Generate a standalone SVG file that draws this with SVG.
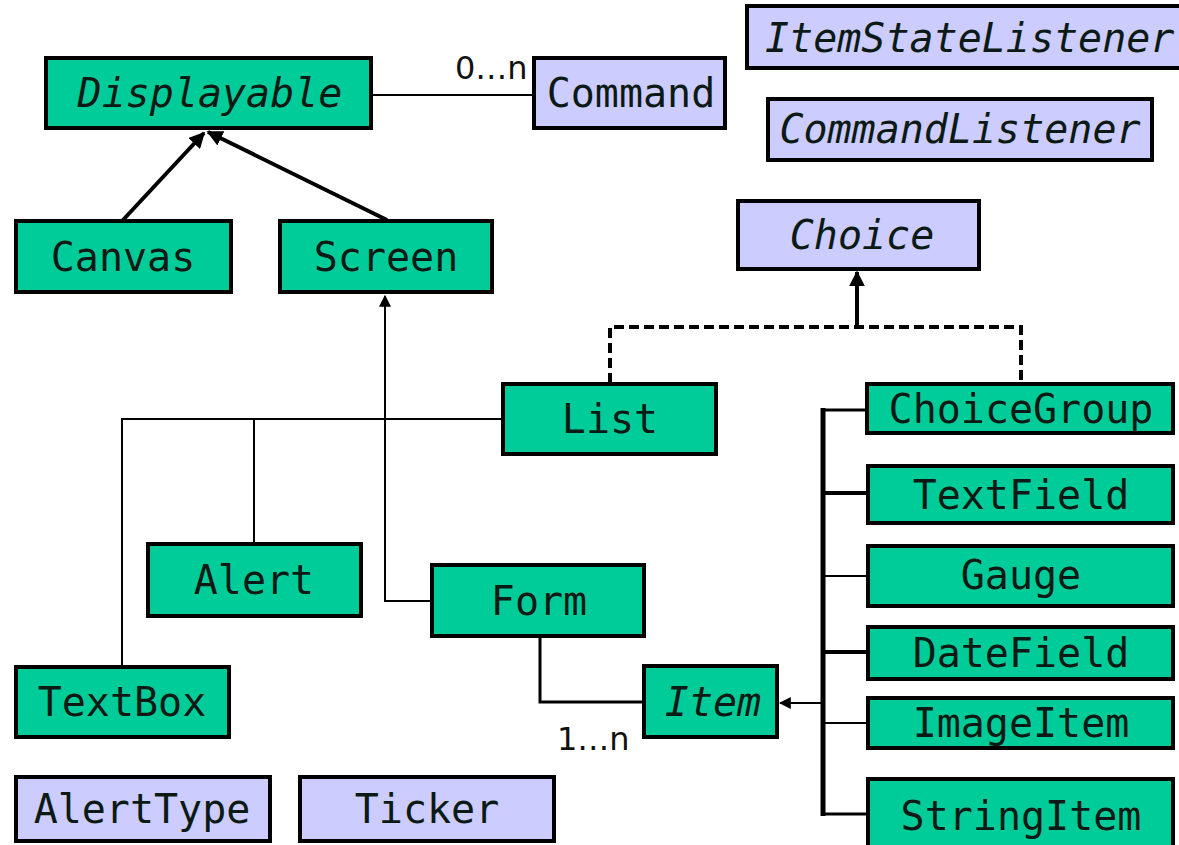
<svg xmlns="http://www.w3.org/2000/svg" width="1179" height="845" viewBox="0 0 1179 845">
  <style>
    .cls { fill: #00cc99; stroke: #000; stroke-width: 4; }
    .ifc { fill: #ccccff; stroke: #000; stroke-width: 4; }
    .lbl { font-family: "DejaVu Sans Mono", "Liberation Mono", monospace; font-size: 40px; fill: #0b1a14; text-anchor: middle; }
    .it { font-style: italic; }
    .mult { font-family: "DejaVu Sans", "Liberation Sans", sans-serif; font-size: 32px; fill: #111; }
    .ln { fill: none; stroke: #000; }
  </style>
  <defs>
    <marker id="head" viewBox="0 0 10 10" refX="9" refY="5" markerWidth="4" markerHeight="4" orient="auto" markerUnits="strokeWidth">
      <path d="M0,0 L10,5 L0,10 z" fill="#000"/>
    </marker>
    <marker id="headS" viewBox="0 0 10 10" refX="9" refY="5" markerWidth="6" markerHeight="6" orient="auto" markerUnits="strokeWidth">
      <path d="M0,0 L10,5 L0,10 z" fill="#000"/>
    </marker>
  </defs>
  <rect width="1179" height="845" fill="#fff"/>

  <g id="connectors">
    <!-- association Displayable - Command -->
    <line class="ln" x1="372" y1="95" x2="533" y2="95" stroke-width="2"/>
    <!-- generalisations to Displayable -->
    <line class="ln" x1="123" y1="220" x2="204" y2="133" stroke-width="4" marker-end="url(#head)"/>
    <line class="ln" x1="387" y1="220" x2="208" y2="132" stroke-width="4" marker-end="url(#head)"/>
    <!-- realisation of Choice -->
    <line class="ln" x1="857" y1="327" x2="857" y2="272" stroke-width="4" marker-end="url(#head)"/>
    <path class="ln" d="M610,383 L610,327 L1021,327 L1021,383" stroke-width="4" stroke-dasharray="10,5"/>
    <!-- Screen subclasses -->
    <path class="ln" d="M431,601 L385,601 L385,296" stroke-width="2" marker-end="url(#headS)"/>
    <path class="ln" d="M122,666 L122,419 L502,419" stroke-width="2"/>
    <line class="ln" x1="254" y1="419" x2="254" y2="543" stroke-width="2"/>
    <!-- Form aggregates Item -->
    <path class="ln" d="M540,637 L540,702 L643,702" stroke-width="3"/>
    <!-- Item subclasses -->
    <line class="ln" x1="823" y1="703" x2="780" y2="703" stroke-width="2" marker-end="url(#headS)"/>
    <line class="ln" x1="823" y1="408" x2="823" y2="816" stroke-width="5"/>
    <line class="ln" x1="823" y1="410" x2="866" y2="410" stroke-width="3"/>
    <line class="ln" x1="823" y1="493" x2="866" y2="493" stroke-width="4"/>
    <line class="ln" x1="823" y1="576" x2="866" y2="576" stroke-width="2"/>
    <line class="ln" x1="823" y1="652" x2="866" y2="652" stroke-width="4"/>
    <line class="ln" x1="823" y1="723" x2="866" y2="723" stroke-width="2"/>
    <line class="ln" x1="823" y1="814" x2="866" y2="814" stroke-width="3"/>
    <text class="mult" x="455" y="79">0…n</text>
    <text class="mult" x="557" y="750">1…n</text>
  </g>

  <g id="displayable"><rect class="cls" x="46" y="58" width="325" height="70"/><text class="lbl it" x="210" y="107">Displayable</text></g>
  <g id="command"><rect class="ifc" x="534" y="58" width="191" height="70"/><text class="lbl" x="631" y="107">Command</text></g>
  <g id="itemStateListener"><rect class="ifc" x="747" y="6" width="440" height="62"/><text class="lbl it" x="765" y="52" style="text-anchor:start">ItemStateListener</text></g>
  <g id="commandListener"><rect class="ifc" x="768" y="99" width="384" height="61"/><text class="lbl it" x="960" y="143">CommandListener</text></g>
  <g id="canvas"><rect class="cls" x="16" y="221" width="215" height="71"/><text class="lbl" x="123" y="271">Canvas</text></g>
  <g id="screen"><rect class="cls" x="280" y="221" width="212" height="71"/><text class="lbl" x="386" y="271">Screen</text></g>
  <g id="choice"><rect class="ifc" x="738" y="201" width="241" height="68"/><text class="lbl it" x="862" y="249">Choice</text></g>
  <g id="list"><rect class="cls" x="503" y="384" width="213" height="70"/><text class="lbl" x="610" y="433">List</text></g>
  <g id="choiceGroup"><rect class="cls" x="867" y="384" width="306" height="49" stroke-width="5"/><text class="lbl" x="1021" y="423">ChoiceGroup</text></g>
  <g id="textField"><rect class="cls" x="868" y="466" width="305" height="57"/><text class="lbl" x="1021" y="509">TextField</text></g>
  <g id="gauge"><rect class="cls" x="868" y="546" width="305" height="60" stroke-width="5"/><text class="lbl" x="1021" y="589">Gauge</text></g>
  <g id="dateField"><rect class="cls" x="868" y="627" width="305" height="52" stroke-width="5"/><text class="lbl" x="1021" y="667">DateField</text></g>
  <g id="imageItem"><rect class="cls" x="868" y="698" width="305" height="50"/><text class="lbl" x="1021" y="737">ImageItem</text></g>
  <g id="stringItem"><rect class="cls" x="868" y="779" width="305" height="72"/><text class="lbl" x="1021" y="830">StringItem</text></g>
  <g id="alert"><rect class="cls" x="148" y="544" width="213" height="72"/><text class="lbl" x="254" y="594">Alert</text></g>
  <g id="form"><rect class="cls" x="432" y="565" width="212" height="71"/><text class="lbl" x="539" y="615">Form</text></g>
  <g id="item"><rect class="cls" x="644" y="666" width="133" height="71"/><text class="lbl it" x="713" y="716">Item</text></g>
  <g id="textBox"><rect class="cls" x="16" y="667" width="213" height="70"/><text class="lbl" x="122" y="716">TextBox</text></g>
  <g id="alertType"><rect class="ifc" x="16" y="777" width="254" height="64"/><text class="lbl" x="142" y="823">AlertType</text></g>
  <g id="ticker"><rect class="ifc" x="300" y="777" width="254" height="64"/><text class="lbl" x="427" y="823">Ticker</text></g>
</svg>
